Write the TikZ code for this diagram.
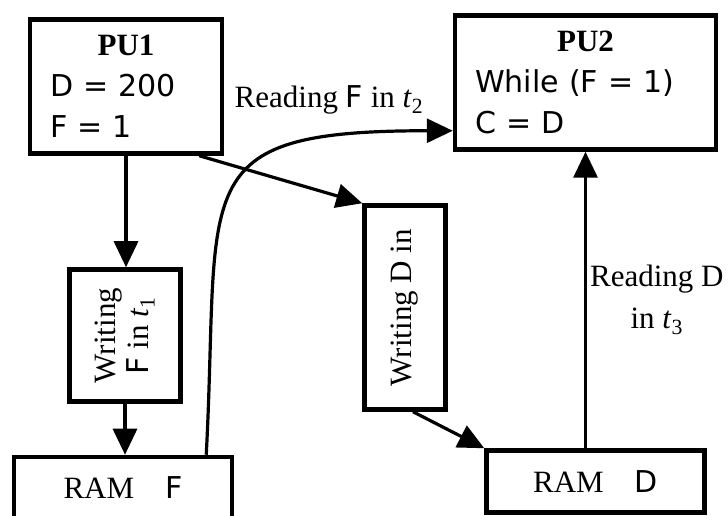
\documentclass[tikz,border=0pt]{standalone}
\usepackage{fontspec}
\setmainfont{Liberation Serif}
\setsansfont[Scale=0.97]{DejaVu Sans}
\usetikzlibrary{arrows.meta,positioning}

\begin{document}
\begin{tikzpicture}[x=1pt, y=1pt,
  unit/.style={draw, line width=4.5pt, inner xsep=20pt, align=left,
               minimum height=134pt, font=\sffamily\fontsize{31}{41}\selectfont},
  wbox/.style={draw, line width=4.5pt, rotate=90, align=center,
               inner sep=2pt, font=\fontsize{31}{33}\selectfont},
  ram/.style={draw, line width=4.5pt, minimum width=218pt, minimum height=62pt,
              font=\fontsize{31}{41}\selectfont},
  lbl/.style={align=center, inner sep=3pt, font=\fontsize{31}{42}\selectfont},
  arr/.style={line width=3.2pt, -{Triangle[length=26pt, width=24pt]}}
]
  \useasboundingbox (0,0) rectangle (728,516);
  % processing units
  \node[unit, text width=152pt] (pu1) at (126,429.5)
        {{\centering\rmfamily\bfseries PU1\par}D = 200\\F = 1};
  \node[unit, text width=221pt] (pu2) at (585.5,433.5)
        {{\centering\rmfamily\bfseries PU2\par}While (F = 1)\\C = D};
  % write steps (rotated: east is up, west is down)
  \node[wbox, minimum width=132pt, minimum height=111pt] (wrf) at (125,180.5)
        {Writing\\\textsf{F} in \textit{t}\textsubscript{1}};
  \node[wbox, minimum width=204pt, minimum height=81pt] (wrd) at (405,208.5)
        {Writing D in};
  % memory
  \node[ram] (ramf) at (123,28) {RAM\quad\textsf{F}};
  \node[ram] (ramd) at (595.5,34.5) {RAM\quad\textsf{D}};
  \node[lbl] (rdf) at (329,416) {Reading \textsf{F} in \textit{t}\textsubscript{2}};
  \draw[arr] (pu1.south) -- (pu1.south |- wrf.east);
  \draw[arr] (wrf.west) -- (wrf.west |- ramf.north);
  \draw[arr] ([xshift=-25pt]pu1.south east) -- (wrd.north east);
  \draw[arr] ([xshift=8pt]wrd.west) -- (ramd.north west);
  \draw[arr] (pu2.south |- ramd.north) -- (pu2.south)
        node[lbl, midway, right] {Reading D\\in \textit{t}\textsubscript{3}};
  \draw[arr] ([xshift=-28pt]ramf.north east) to[out=87, in=180, looseness=1.7]
        ([yshift=21pt]pu2.south west);
\end{tikzpicture}
\end{document}
